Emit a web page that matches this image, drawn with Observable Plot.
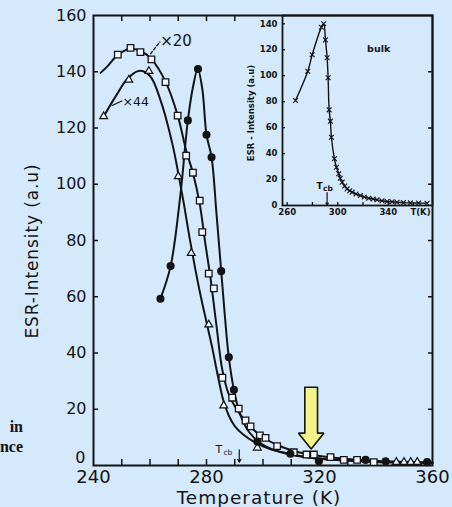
<!DOCTYPE html>
<html><head><meta charset="utf-8">
<script src="https://cdn.jsdelivr.net/npm/d3@7"></script>
<script src="https://cdn.jsdelivr.net/npm/@observablehq/plot@0.6"></script>
<style>
html,body{margin:0;padding:0;background:#d5e9fc;}
#wrap{position:relative;width:452px;height:507px;overflow:hidden;background:#d5e9fc;font-family:"DejaVu Sans",sans-serif;color:#141414;}
#wrap svg{position:absolute;}
.lab{position:absolute;white-space:nowrap;line-height:1;}
</style></head><body><div id="wrap"></div>
<script>
// ---------- main plot data (Temperature K, ESR intensity a.u.) ----------
// x20 series (open squares) : drawn curve + markers
const x20CurveT = [242.5,245,248.6,253,257,260.5,265.5,269.8,272.8,275.2,277.6,279.5,281.5,283.5,285.6,288,291,294,298,302,307,313,320,330,340,350,360];
const x20CurveV = [139.6,142,146,148.2,147.2,144.5,136.5,124.5,112,104,93,79.5,66,50,34,25,19.5,15.5,11.5,8.8,6.5,4.6,3.4,2.3,1.6,1.2,1.0];
const sqT = [248.6,253.1,256.6,260.5,265.5,269.8,272.8,275.2,277.6,278.5,280.8,282.6,285.6,289.1,291.4,293.8,295.6,298.9,300.9,305.0,310.9,315.4,318.0,323.9,328.6,333.3,339.2];
const sqV = [146.1,148.5,147.0,144.4,136.3,124.4,110.2,104.1,94.2,83.0,68.2,63.0,31.2,24.1,20.2,16.0,13.9,10.7,9.8,6.9,4.7,3.9,3.9,3.0,2.0,2.0,1.2];
// x44 series (open triangles)
const x44CurveT = [243.6,248,252,256,260,264,268,270,272,274,276,278,280,282,284,286,288,290,293,297,302,308,315,325,335,345,360];
const x44CurveV = [124.1,131.5,137.5,140.3,138.5,129,114,104,93,81,70,60,51,42,32,23,17.5,14,11,8.3,6,4.3,3,2,1.5,1.1,0.8];
const triT = [243.6,252.5,259.6,270.0,274.6,280.8,286.1,298.0,347.2,349.9,352.3,354.6];
const triV = [124.1,137.1,140.2,102.8,75.5,50.1,21.3,6.3,1.2,1.2,1.2,1.2];
// unscaled series (filled circles)
const circCurveT = [263.7,267.3,270.8,273.4,275.3,276.9,278.5,280,281.8,283.5,285.2,286.6,287.9,289.7,292,295,299,304,310,318,328,338,348,360];
const circCurveV = [59.3,70.9,96.6,122.7,135,141,134,117.6,109.6,90,69.1,52,38.5,26.9,18,12,8,5.5,4,2.6,1.9,1.5,1.3,1.1];
const circT = [263.7,267.3,273.4,277.0,280.0,281.8,285.2,287.9,289.7,298.0,309.7,319.8,336.3,343.4,358.1];
const circV = [59.3,70.9,122.7,141.0,117.6,109.6,69.1,38.5,26.9,8.5,4.2,1.5,2.0,1.5,1.2];
// ---------- inset: bulk ----------
const bulkT = [266.6,276.3,279.8,287.1,288.9,290.3,291.6,292.4,293.2,294.2,295.0,297.4,299.0,300.8,302,303.5,305.5,307.4,309.5,311.4,314.5,317.9,321,324.5,328,331.1,335,339.1,343,347,352,357.5,364,370.7];
const bulkV = [80.9,103.5,116.1,137.4,140.0,127.6,113.8,98.4,73.7,65.0,52.6,36.0,29.5,24.4,21,18,15,12.8,11.3,10.3,8.8,7.7,6.6,5.6,5.0,4.4,3.7,3.1,2.8,2.5,2.2,2.0,1.9,1.8];
// ---------- tick labels ----------
const mainXLabels = [240,280,320,360];
const mainYLabels = [0,20,40,60,80,100,120,140,160];
const insetXLabels = [260,300,340];
const insetYLabels = [0,20,40,60,80,100,120,140];
const Tcb = 291.6;

const tbl = (T,V) => T.map((t,i)=>({t, v:V[i]}));
const ink = "#141414", bg = "#d5e9fc";

// annotation placements
const mainNotes = [
  {t:263.6, v:151.0, s:"×20", size:15},
  {t:250.3, v:129.4, s:"×44", size:12.5}
];
const lead20 = [{t:260.2,v:146.4},{t:263.5,v:150.6}];
const lead44 = [{t:246.6,v:128.0},{t:250.0,v:129.6}];
const arrowSpec = {t:317.05, top:27.8, base:11.5, tip:5.9, shaftHalf:2.25, headHalf:4.47};
const arrowPoly = [
  {t:arrowSpec.t-arrowSpec.shaftHalf, v:arrowSpec.top},
  {t:arrowSpec.t+arrowSpec.shaftHalf, v:arrowSpec.top},
  {t:arrowSpec.t+arrowSpec.shaftHalf, v:arrowSpec.base},
  {t:arrowSpec.t+arrowSpec.headHalf, v:arrowSpec.base},
  {t:arrowSpec.t, v:arrowSpec.tip},
  {t:arrowSpec.t-arrowSpec.headHalf, v:arrowSpec.base},
  {t:arrowSpec.t-arrowSpec.shaftHalf, v:arrowSpec.base},
  {t:arrowSpec.t-arrowSpec.shaftHalf, v:arrowSpec.top}
];

const blank = () => "";
const main = Plot.plot({
  width: 452, height: 507,
  marginLeft: 93, marginRight: 20, marginTop: 15, marginBottom: 42,
  x: {domain: [240, 360], label: null},
  y: {domain: [0, 160], label: null},
  style: {background: "transparent", fontFamily: "DejaVu Sans, sans-serif", color: ink, overflow: "visible"},
  marks: [
    Plot.axisX({ticks: d3.range(250, 360, 10), tickSize: -6, tickFormat: blank, strokeWidth: 1.5}),
    Plot.axisX({anchor: "top", ticks: d3.range(250, 300, 10), tickSize: -5, tickFormat: blank, strokeWidth: 1.5}),
    Plot.axisX({ticks: mainXLabels, tickSize: 0, tickPadding: 5, fontSize: 18}),
    Plot.axisY({ticks: d3.range(20, 160, 20), tickSize: -5, tickFormat: blank, strokeWidth: 1.5}),
    Plot.axisY({anchor: "right", ticks: d3.range(20, 160, 20), tickSize: -5, tickFormat: blank, strokeWidth: 1.5}),
    Plot.axisY({ticks: mainYLabels.filter(d => d > 0), tickSize: 0, tickPadding: 7, fontSize: 16}),
    Plot.axisY({ticks: [0], tickSize: 0, tickPadding: 8, fontSize: 16, dy: -8}),
    Plot.frame({stroke: ink, strokeWidth: 2}),
    Plot.line(tbl(x44CurveT, x44CurveV), {x: "t", y: "v", curve: "catmull-rom", stroke: ink, strokeWidth: 2}),
    Plot.line(tbl(x20CurveT, x20CurveV), {x: "t", y: "v", curve: "catmull-rom", stroke: ink, strokeWidth: 2}),
    Plot.line(tbl(circCurveT, circCurveV), {x: "t", y: "v", curve: "catmull-rom", stroke: ink, strokeWidth: 2}),
    Plot.dot(tbl(triT, triV), {x: "t", y: "v", symbol: "triangle", r: 2.9, fill: "#f2f7fc", stroke: ink, strokeWidth: 1.2}),
    Plot.dot(tbl(sqT, sqV), {x: "t", y: "v", symbol: "square", r: 3.7, fill: "#f2f7fc", stroke: ink, strokeWidth: 1.3}),
    Plot.dot(tbl(circT, circV), {x: "t", y: "v", r: 3.3, fill: ink, stroke: ink}),
    Plot.line(lead20, {x: "t", y: "v", stroke: ink, strokeWidth: 1.3, strokeDasharray: "3,2"}),
    Plot.line(lead44, {x: "t", y: "v", stroke: ink, strokeWidth: 1.3}),
    Plot.text(mainNotes, {x: "t", y: "v", text: "s", fontSize: d => d.size, textAnchor: "start", fill: ink}),
    Plot.text([{t: 284.4, v: 4.6}], {x: "t", y: "v", text: () => "T", fontSize: 11, lineAnchor: "bottom", fill: ink}),
    Plot.text([{t: 286.0, v: 3.7}], {x: "t", y: "v", text: () => "cb", fontSize: 7.5, textAnchor: "start", lineAnchor: "bottom", fill: ink}),
    Plot.arrow([{t: Tcb}], {x1: "t", x2: "t", y1: () => 5.6, y2: () => 1.2, headLength: 4, stroke: ink, strokeWidth: 1.2}),
    Plot.line(arrowPoly, {x: "t", y: "v", curve: "linear", fill: "#f3f38a", stroke: ink, strokeWidth: 1.6, strokeLinejoin: "miter"})
  ]
});
main.style.left = "0px"; main.style.top = "0px";

const insetNotes = [{t: 332.4, v: 121, s: "bulk"}];
const inset = Plot.plot({
  width: 212, height: 230,
  marginLeft: 42, marginRight: 20, marginTop: 15, marginBottom: 25,
  x: {domain: [256.3, 375], label: null},
  y: {domain: [0, 146.4], label: null},
  style: {background: "transparent", fontFamily: "DejaVu Sans, sans-serif", color: ink, overflow: "visible"},
  marks: [
    Plot.axisX({ticks: d3.range(260, 371, 20), tickSize: -3, tickFormat: blank, strokeWidth: 1.3}),
    Plot.axisX({ticks: insetXLabels, tickSize: 0, tickPadding: 3, fontSize: 8.5, fontWeight: "bold"}),
    Plot.axisY({ticks: d3.range(20, 141, 20), tickSize: -3, tickFormat: blank, strokeWidth: 1.3}),
    Plot.axisY({ticks: insetYLabels, tickSize: 0, tickPadding: 5, fontSize: 8.5, fontWeight: "bold"}),
    Plot.frame({stroke: ink, strokeWidth: 1.8}),
    Plot.line(tbl(bulkT, bulkV), {x: "t", y: "v", curve: "catmull-rom", stroke: ink, strokeWidth: 1.4}),
    Plot.dot(tbl(bulkT, bulkV), {x: "t", y: "v", symbol: "times", r: 2.3, stroke: ink, strokeWidth: 1.1}),
    Plot.text(insetNotes, {x: "t", y: "v", text: "s", fontSize: 9.5, fontWeight: "bold", fill: ink}),
    Plot.text([{t: 365.5, v: 0}], {x: "t", y: "v", text: () => "T(K)", fontSize: 8.5, fontWeight: "bold", lineAnchor: "top", dy: 3, fill: ink}),
    Plot.text([{t: 285.7, v: 12.7}], {x: "t", y: "v", text: () => "T", fontSize: 9, fontWeight: "bold", lineAnchor: "bottom", fill: ink}),
    Plot.text([{t: 288.3, v: 10.9}], {x: "t", y: "v", text: () => "cb", fontSize: 7.5, fontWeight: "bold", textAnchor: "start", lineAnchor: "bottom", fill: ink}),
    Plot.arrow([{t: Tcb}], {x1: "t", x2: "t", y1: () => 10, y2: () => 0.3, headLength: 3, stroke: ink, strokeWidth: 1.2})
  ]
});
inset.style.left = "240px"; inset.style.top = "0px";

const wrap = document.getElementById("wrap");
wrap.appendChild(main);
wrap.appendChild(inset);

function addLabel(text, css) {
  const d = document.createElement("div");
  d.className = "lab";
  d.textContent = text;
  Object.assign(d.style, css);
  wrap.appendChild(d);
}
addLabel("ESR-Intensity (a.u)", {left: "32px", top: "251px", fontSize: "17px", letterSpacing: "0.9px", transform: "translate(-50%,-50%) rotate(-90deg)"});
addLabel("Temperature  (K)", {left: "259px", top: "498px", fontSize: "18.5px", letterSpacing: "1px", transform: "translate(-50%,-50%)"});
addLabel("ESR - Intensity (a.u)", {left: "251px", top: "113px", fontSize: "8.5px", fontWeight: "bold", transform: "translate(-50%,-50%) rotate(-90deg)"});
addLabel("in", {right: "429px", top: "419px", fontSize: "16px", fontFamily: "Liberation Serif, serif", fontWeight: "bold"});
addLabel("nce", {right: "429px", top: "439px", fontSize: "16px", fontFamily: "Liberation Serif, serif", fontWeight: "bold"});
</script></body></html>
